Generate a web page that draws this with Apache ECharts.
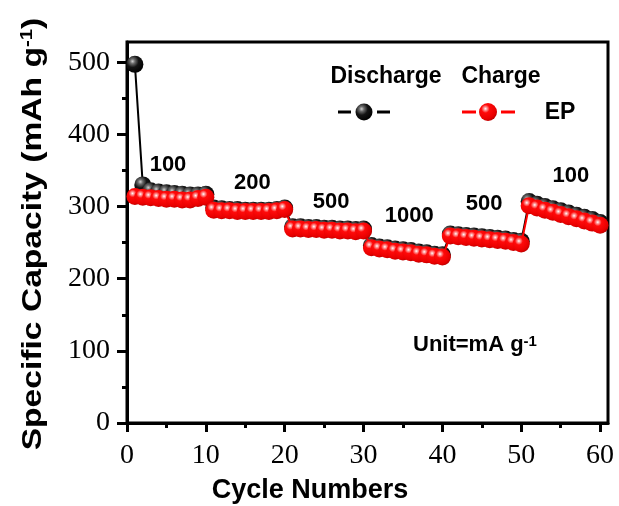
<!DOCTYPE html>
<html>
<head>
<meta charset="utf-8">
<script src="https://cdn.jsdelivr.net/npm/echarts@6/dist/echarts.min.js"></script>
<style>
html,body{margin:0;padding:0;background:#fff;}
#c{width:619px;height:506px;}
</style>
</head>
<body>
<div id="c"></div>
<script>
// ---- data ----
var cycles = [1,2,3,4,5,6,7,8,9,10,11,12,13,14,15,16,17,18,19,20,21,22,23,24,25,26,27,28,29,30,31,32,33,34,35,36,37,38,39,40,41,42,43,44,45,46,47,48,49,50,51,52,53,54,55,56,57,58,59,60];
var discharge = [497,330,322,320,319,318,317,316,316,317,
                 298,297,296,296,295,295,295,295,296,298,
                 272,272,271,271,270,270,269,269,268,269,
                 246,244,243,241,240,239,237,236,234,233,
                 262,261,260,259,258,257,256,255,253,252,
                 307,303,300,297,294,291,288,285,282,278];
var charge = [314,313,312,311,310,310,309,309,311,313,
              295,294,294,293,293,293,293,293,294,296,
              269,269,268,268,267,267,266,266,265,266,
              243,241,240,238,237,236,234,233,231,230,
              259,258,257,256,255,254,253,252,250,248,
              301,298,295,292,289,286,283,280,277,274];
var rateLabels = ['100','200','500','1000','500','100'];
var rateLabelX = [5.2,15.9,25.9,35.8,45.3,56.3];
var rateLabelY = [357,332,306,287,303,342];
var xMajorTicks = [0,10,20,30,40,50,60];
var xMinorTicks = [5,15,25,35,45,55];
var yMajorTicks = [0,100,200,300,400,500];
var yMinorTicks = [50,150,250,350,450];

function zip(xs, ys){ var out=[]; for(var i=0;i<xs.length;i++) out.push([xs[i], ys[i]]); return out; }
var redBall = {type:'radial', x:0.36, y:0.32, r:0.72, colorStops:[
  {offset:0, color:'#ffffff'},{offset:0.12, color:'#ff9a9a'},{offset:0.32, color:'#ff0a0a'},{offset:0.8, color:'#e80000'},{offset:1, color:'#b80000'}]};
var blackBall = {type:'radial', x:0.36, y:0.32, r:0.72, colorStops:[
  {offset:0, color:'#d0d0d0'},{offset:0.2, color:'#6a6a6a'},{offset:0.5, color:'#141414'},{offset:1, color:'#000000'}]};

var SANS = 'Liberation Sans, Arial, sans-serif';
var SERIF = 'Liberation Serif, Times New Roman, serif';
var chart = echarts.init(document.getElementById('c'), null, {renderer:'canvas'});
chart.setOption({
  animation:false,
  backgroundColor:'#fff',
  grid:{left:127, right:11, top:42, bottom:83, show:true, borderColor:'#000', borderWidth:3, backgroundColor:'transparent'},
  xAxis:[{
    type:'value', min:0, max:61, interval:10, position:'bottom',
    splitLine:{show:false},
    axisLine:{show:true, onZero:false, lineStyle:{color:'#000', width:3}},
    axisTick:{show:true, inside:false, length:9, customValues:xMajorTicks, lineStyle:{color:'#000', width:3}},
    axisLabel:{customValues:xMajorTicks, margin:19, color:'#000', fontFamily:SERIF, fontSize:28}
  },{
    type:'value', min:0, max:61, position:'bottom', offset:0,
    splitLine:{show:false},
    axisLine:{show:false},
    axisTick:{show:true, inside:false, length:5, customValues:xMinorTicks, lineStyle:{color:'#000', width:3}},
    axisLabel:{show:false}
  }],
  yAxis:[{
    type:'value', min:0, max:528, interval:100, position:'left',
    splitLine:{show:false},
    axisLine:{show:true, onZero:false, lineStyle:{color:'#000', width:3}},
    axisTick:{show:true, inside:false, length:10, customValues:yMajorTicks, lineStyle:{color:'#000', width:3}},
    axisLabel:{customValues:yMajorTicks, margin:17, color:'#000', fontFamily:SERIF, fontSize:28}
  },{
    type:'value', min:0, max:528, position:'left', offset:0,
    splitLine:{show:false},
    axisLine:{show:false},
    axisTick:{show:true, inside:false, length:5, customValues:yMinorTicks, lineStyle:{color:'#000', width:3}},
    axisLabel:{show:false}
  }],
  series:[{
    name:'Discharge', type:'line', xAxisIndex:0, yAxisIndex:0,
    data: zip(cycles, discharge),
    symbol:'circle', symbolSize:17, showSymbol:true,
    lineStyle:{color:'#000', width:2},
    itemStyle:{color:blackBall, borderWidth:0},
    z:2
  },{
    name:'Charge', type:'line', xAxisIndex:0, yAxisIndex:0,
    data: zip(cycles, charge),
    symbol:'circle', symbolSize:17, showSymbol:true,
    lineStyle:{color:'#ff0000', width:2},
    itemStyle:{color:redBall, borderWidth:0},
    z:3
  },{
    name:'rates', type:'scatter', xAxisIndex:0, yAxisIndex:0,
    data: rateLabelX.map(function(x,i){ return {value:[x, rateLabelY[i]], name:rateLabels[i]}; }),
    symbolSize:1,
    itemStyle:{color:'rgba(0,0,0,0)', opacity:1},
    label:{show:true, position:'inside', formatter:'{b}', color:'#000', opacity:1, fontFamily:SANS, fontWeight:'bold', fontSize:22},
    z:4
  }],
  graphic:[
    {type:'text', x:33, y:234, rotation:Math.PI/2, scaleX:1.2,
     style:{text:'{a|Specific Capacity (mAh g}{s|-1}{a|)}', align:'center', verticalAlign:'middle',
       rich:{a:{fontFamily:SANS, fontWeight:'bold', fontSize:28, fill:'#000'},
             s:{fontFamily:SANS, fontWeight:'bold', fontSize:17, fill:'#000', verticalAlign:'top'}}}},
    {type:'text', x:310, y:491,
     style:{text:'Cycle Numbers', align:'center', verticalAlign:'middle', fontFamily:SANS, fontWeight:'bold', fontSize:27, fill:'#000'}},
    {type:'text', x:386, y:77,
     style:{text:'Discharge', align:'center', verticalAlign:'middle', fontFamily:SANS, fontWeight:'bold', fontSize:23, fill:'#000'}},
    {type:'text', x:501, y:77,
     style:{text:'Charge', align:'center', verticalAlign:'middle', fontFamily:SANS, fontWeight:'bold', fontSize:23, fill:'#000'}},
    {type:'line', shape:{x1:338, y1:112, x2:351, y2:112}, style:{stroke:'#000', lineWidth:3}},
    {type:'line', shape:{x1:377, y1:112, x2:390, y2:112}, style:{stroke:'#000', lineWidth:3}},
    {type:'circle', shape:{cx:364, cy:112, r:8.5}, style:{fill:blackBall}},
    {type:'line', shape:{x1:462, y1:112, x2:476, y2:112}, style:{stroke:'#ff0000', lineWidth:3}},
    {type:'line', shape:{x1:501, y1:112, x2:515, y2:112}, style:{stroke:'#ff0000', lineWidth:3}},
    {type:'circle', shape:{cx:488, cy:112, r:9}, style:{fill:redBall}},
    {type:'text', x:560, y:113,
     style:{text:'EP', align:'center', verticalAlign:'middle', fontFamily:SANS, fontWeight:'bold', fontSize:23, fill:'#000'}},
    {type:'text', x:413, y:345,
     style:{text:'{a|Unit=mA g}{s|-1}', align:'left', verticalAlign:'middle',
       rich:{a:{fontFamily:SANS, fontWeight:'bold', fontSize:22, fill:'#000'},
             s:{fontFamily:SANS, fontWeight:'bold', fontSize:15, fill:'#000', verticalAlign:'top'}}}}
  ]
});
</script>
</body>
</html>
